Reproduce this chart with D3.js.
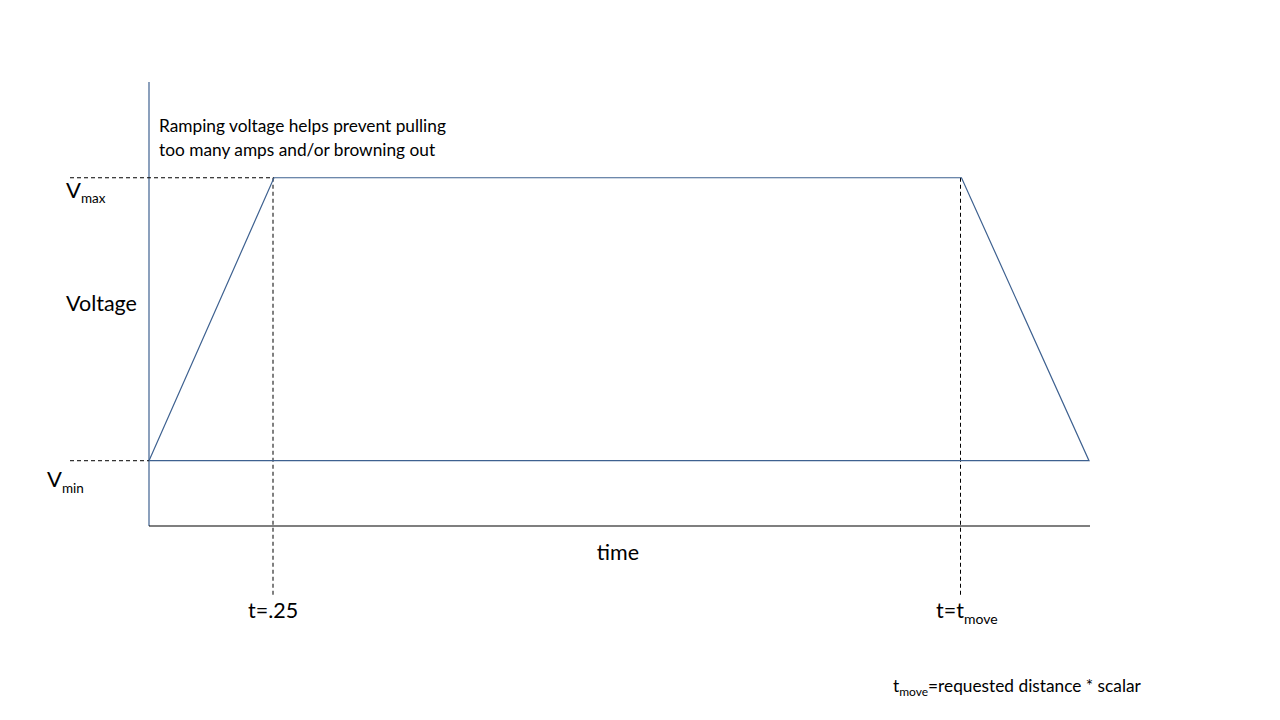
<!DOCTYPE html>
<html>
<head>
<meta charset="utf-8">
<script src="https://cdn.jsdelivr.net/npm/d3@7"></script>
<style>
  body { margin: 0; background: #fff; }
  svg { display: block; font-family: Lato, "Open Sans", sans-serif; }
</style>
</head>
<body>
<script>
// voltage profile: ramp up, hold, ramp down
var times = [0, 0.25, 1.625, 1.88];
var voltages = [0.75, 4, 4, 0.75];
var vMin = 0.75, vMax = 4;
var tRamp = 0.25, tMove = 1.625;
var tAxisEnd = 1.882, vAxisTop = 5.1;

var width = 1280, height = 720;

var svg = d3.select("body").append("svg")
  .attr("width", width)
  .attr("height", height);

var x = d3.scaleLinear().domain([0, tAxisEnd]).range([149, 1090]);
var y = d3.scaleLinear().domain([0, vAxisTop]).range([526, 82]);

var blue = "#3e6190";

// axes (plain lines, no ticks)
svg.append("line")
  .attr("x1", x(0)).attr("x2", x(0))
  .attr("y1", y(0)).attr("y2", y(vAxisTop))
  .attr("stroke", blue).attr("stroke-width", 1.2);
svg.append("line")
  .attr("x1", x(0)).attr("x2", x(tAxisEnd))
  .attr("y1", y(0)).attr("y2", y(0))
  .attr("stroke", "#000").attr("stroke-width", 1.2);

// dashed guides
var dash = "4,3";
svg.append("line")
  .attr("x1", 70).attr("x2", x(tRamp))
  .attr("y1", y(vMax)).attr("y2", y(vMax))
  .attr("stroke", "#000").attr("stroke-dasharray", dash);
svg.append("line")
  .attr("x1", 70).attr("x2", x(0))
  .attr("y1", y(vMin)).attr("y2", y(vMin))
  .attr("stroke", "#000").attr("stroke-dasharray", dash);
[tRamp, tMove].forEach(function (t) {
  svg.append("line")
    .attr("x1", x(t) - 1).attr("x2", x(t) - 1)
    .attr("y1", y(vMax)).attr("y2", 595)
    .attr("stroke", "#000").attr("stroke-dasharray", dash);
});

// trapezoid (closed back along Vmin)
var pts = times.map(function (t, i) { return [t, voltages[i]]; });
pts.push([times[0], voltages[0]]);
var line = d3.line()
  .x(function (d) { return x(d[0]); })
  .y(function (d) { return y(d[1]); });
svg.append("path")
  .datum(pts)
  .attr("d", line)
  .attr("fill", "none")
  .attr("stroke", blue)
  .attr("stroke-width", 1.2);

// text
function label(tx, ty, size, main, sub, subSize, subDy) {
  var t = svg.append("text")
    .attr("x", tx).attr("y", ty)
    .attr("font-size", size)
    .attr("fill", "#000");
  t.append("tspan").text(main);
  if (sub) {
    t.append("tspan").attr("font-size", subSize).attr("dy", subDy).text(sub);
  }
  return t;
}

label(159, 132, 17.3, "Ramping voltage helps prevent pulling");
label(159, 156, 17.3, "too many amps and/or browning out");

label(66, 198, 22, "V", "max", 13.5, 5);
label(66, 311, 21.5, "Voltage");
label(47, 487, 22, "V", "min", 13.5, 6);

label(618, 560, 21.5, "time").attr("text-anchor", "middle");

label(248, 618, 21.5, "t=.25");
label(936, 618, 21.5, "t=t", "move", 14, 6);

var note = label(893, 692, 17.3, "t", "move", 12, 4);
note.append("tspan").attr("font-size", 17.3).attr("dy", -4).text("=requested distance * scalar");
</script>
</body>
</html>
